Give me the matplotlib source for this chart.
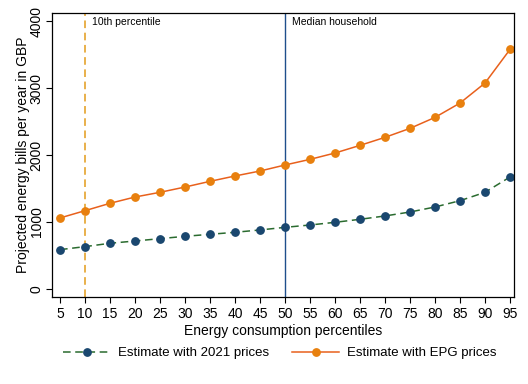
import matplotlib
matplotlib.use("Agg")
import matplotlib.pyplot as plt

plt.rcParams['font.family'] = ['Liberation Sans', 'DejaVu Sans']

percentiles = [5, 10, 15, 20, 25, 30, 35, 40, 45, 50, 55, 60, 65, 70, 75, 80, 85, 90, 95]
prices_2021 = [587, 632, 682, 716, 751, 786, 816, 846, 881, 920, 955, 995,
               1040, 1090, 1149, 1224, 1318, 1443, 1672]
prices_epg = [1060, 1169, 1279, 1373, 1443, 1522, 1607, 1687, 1761, 1851, 1935, 2030,
              2144, 2264, 2398, 2562, 2776, 3075, 3577]
yticks = [0, 1000, 2000, 3000, 4000]

fig = plt.figure(figsize=(5.28, 3.84), dpi=100)
ax = fig.add_axes([0.0985, 0.2266, 0.875, 0.7394])

# reference lines
ax.axvline(10, color='#e39b1a', lw=1.1, ls=(0, (5, 3)))
ax.axvline(50, color='#1f4f8c', lw=1.0)
ax.text(11.3, 4060, "10th percentile", fontsize=7.5, va='top')
ax.text(51.3, 4060, "Median household", fontsize=7.5, va='top')

ax.plot(percentiles, prices_2021, color='#2a6b2f', lw=1.1, ls=(0, (5, 3)),
        marker='o', ms=5.3, mfc='#1a476f', mec='#1a476f',
        label='Estimate with 2021 prices')
ax.plot(percentiles, prices_epg, color='#e8601c', lw=1.1,
        marker='o', ms=5.3, mfc='#e8800e', mec='#e8800e',
        label='Estimate with EPG prices')

ax.set_xlim(3.4, 95.8)
ax.set_ylim(-120, 4120)
ax.set_xticks(percentiles)
ax.set_yticks(yticks)
ax.set_yticklabels([str(v) for v in yticks], rotation=90, va='center')
ax.tick_params(labelsize=10, length=4, width=0.8)
ax.tick_params(axis='y', pad=2)
ax.set_xlabel("Energy consumption percentiles", fontsize=10, labelpad=2)
ax.set_ylabel("Projected energy bills per year in GBP", fontsize=10, labelpad=0)
for s in ax.spines.values():
    s.set_linewidth(0.9)

fig.legend(loc='center', bbox_to_anchor=(0.53, 0.08), ncol=2, frameon=False,
           fontsize=9.5, handlelength=3.6, handletextpad=0.6, columnspacing=1.7)

fig.savefig("out.png", dpi=100)
